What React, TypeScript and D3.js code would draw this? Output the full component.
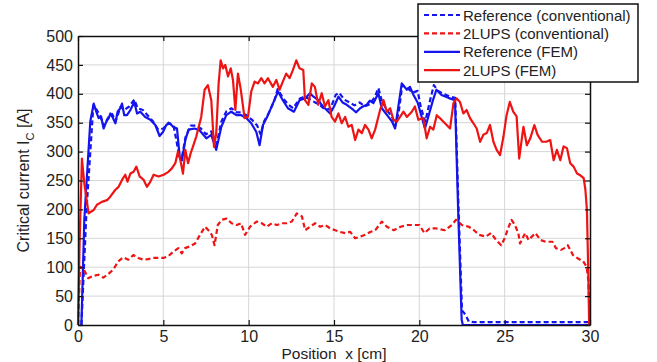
import { useRef, useEffect } from "react";
import * as d3 from "d3";

// [position cm, critical current A]
const refConventional: [number, number][] = [
  [0.2, 0], [0.5, 200], [0.9, 380], [1.1, 372], [1.3, 362], [1.5, 345], [1.8, 360], [2.0, 365],
  [2.2, 352], [2.5, 378], [2.7, 372], [3.0, 378], [3.3, 390], [3.5, 375], [3.8, 372], [4.1, 362],
  [4.4, 352], [4.7, 338], [5.0, 340], [5.3, 350], [5.6, 345], [5.9, 298], [6.1, 292], [6.3, 325],
  [6.6, 345], [6.9, 345], [7.2, 340], [7.5, 330], [7.8, 335], [8.1, 310], [8.4, 352], [8.7, 370],
  [9.0, 375], [9.3, 368], [9.6, 368], [9.9, 362], [10.2, 355], [10.5, 345], [10.7, 330], [10.9, 352],
  [11.2, 368], [11.5, 388], [11.7, 408], [12.0, 393], [12.3, 382], [12.6, 375], [13.0, 392], [13.3, 395],
  [13.6, 390], [13.9, 385], [14.2, 380], [14.5, 372], [14.8, 375], [15.1, 398], [15.3, 402], [15.6, 390],
  [15.9, 385], [16.2, 380], [16.5, 385], [16.8, 378], [17.1, 382], [17.4, 395], [17.6, 410], [17.8, 388],
  [18.1, 372], [18.4, 360], [18.6, 345], [18.8, 370], [19.0, 415], [19.3, 410], [19.6, 402], [19.9, 405],
  [20.1, 375], [20.35, 352], [20.6, 385], [20.85, 415], [21.1, 405], [21.4, 400], [21.8, 395], [22.1, 393],
  [22.3, 200], [22.5, 25], [22.7, 18], [22.9, 6], [23.2, 5], [30, 5],
];

const lupsConventional: [number, number][] = [
  [0, 0], [0.12, 101], [0.31, 98], [0.6, 81], [0.9, 85], [1.19, 87], [1.48, 82], [1.77, 88], [2.07, 96],
  [2.36, 110], [2.65, 117], [2.95, 113], [3.24, 121], [3.53, 116], [3.83, 113], [4.12, 114], [4.41, 116],
  [4.71, 116], [5.0, 116], [5.29, 119], [5.59, 127], [5.88, 133], [6.08, 124], [6.27, 133], [6.56, 136],
  [6.86, 141], [7.15, 156], [7.44, 170], [7.64, 164], [7.84, 156], [8.0, 138], [8.19, 173], [8.42, 182],
  [8.71, 184], [9.0, 176], [9.3, 173], [9.55, 176], [9.79, 156], [10.08, 170], [10.47, 179], [10.77, 176],
  [11.06, 170], [11.36, 176], [11.65, 173], [11.94, 176], [12.24, 176], [12.53, 179], [12.82, 193],
  [13.12, 188], [13.31, 164], [13.6, 170], [13.9, 176], [14.19, 170], [14.48, 173], [14.78, 167],
  [15.07, 164], [15.36, 161], [15.66, 159], [15.95, 161], [16.24, 150], [16.54, 153], [16.83, 156],
  [17.12, 161], [17.42, 164], [17.8, 179], [18.1, 170], [18.5, 164], [18.9, 170], [19.3, 173], [19.7, 173],
  [20.0, 173], [20.3, 159], [20.6, 167], [21.0, 167], [21.5, 164], [21.9, 173], [22.15, 182], [22.5, 173],
  [22.9, 170], [23.2, 164], [23.5, 156], [23.9, 153], [24.2, 159], [24.5, 147], [24.8, 138], [25.0, 150],
  [25.2, 167], [25.4, 182], [25.6, 173], [25.8, 159], [25.9, 141], [26.2, 159], [26.4, 147], [26.8, 159],
  [27.1, 147], [27.4, 144], [27.8, 144], [28.0, 133], [28.3, 130], [28.5, 133], [28.7, 138], [29.0, 121],
  [29.3, 115], [29.6, 110], [29.8, 101], [29.9, 78], [30, 3],
];

const refFem: [number, number][] = [
  [0.2, 0], [0.37, 182], [0.72, 352], [0.92, 383], [1.07, 369], [1.21, 358], [1.35, 361], [1.5, 340],
  [1.66, 352], [1.8, 358], [1.9, 366], [2.05, 358], [2.19, 349], [2.32, 369], [2.48, 375], [2.58, 383],
  [2.71, 363], [2.87, 363], [3.07, 372], [3.3, 386], [3.46, 366], [3.65, 369], [3.94, 360], [4.24, 355],
  [4.53, 346], [4.78, 327], [4.98, 334], [5.17, 346], [5.37, 349], [5.57, 343], [5.8, 340], [5.96, 291],
  [6.09, 285], [6.29, 320], [6.48, 338], [6.83, 340], [7.12, 337], [7.52, 323], [7.81, 329], [8.1, 303],
  [8.4, 343], [8.69, 363], [8.98, 369], [9.28, 363], [9.57, 363], [9.86, 358], [10.15, 349], [10.45, 334],
  [10.64, 311], [10.84, 346], [11.13, 363], [11.42, 383], [11.72, 404], [12.0, 389], [12.3, 375],
  [12.65, 369], [12.98, 389], [13.3, 392], [13.59, 401], [13.8, 395], [14.08, 389], [14.3, 380],
  [14.57, 372], [14.77, 366], [15.0, 378], [15.26, 395], [15.5, 385], [15.75, 381], [16.14, 372],
  [16.3, 368], [16.53, 375], [16.7, 378], [16.92, 381], [17.1, 388], [17.31, 384], [17.6, 401], [17.8, 375],
  [18.19, 360], [18.4, 352], [18.58, 340], [18.68, 360], [18.97, 418], [19.27, 407], [19.45, 412],
  [19.66, 398], [19.9, 385], [20.33, 340], [20.8, 389], [21.0, 407], [21.3, 398], [21.7, 393], [22.09, 389],
  [22.28, 194], [22.48, 9], [22.55, 0], [30, 0],
];

const lupsFem: [number, number][] = [
  [0, 0], [0.1, 150], [0.23, 288], [0.37, 245], [0.62, 193], [0.92, 199], [1.11, 208], [1.4, 213],
  [1.7, 216], [1.89, 222], [2.19, 234], [2.38, 239], [2.58, 251], [2.77, 260], [2.9, 248], [3.07, 262],
  [3.26, 265], [3.42, 274], [3.61, 257], [3.85, 251], [4.04, 239], [4.24, 248], [4.43, 260], [4.72, 257],
  [5.02, 260], [5.3, 265], [5.5, 271], [5.7, 280], [5.86, 300], [6.0, 285], [6.15, 262], [6.29, 303],
  [6.45, 280], [6.6, 297], [6.73, 308], [6.93, 326], [7.22, 360], [7.42, 407], [7.61, 415], [7.81, 389],
  [7.97, 308], [8.1, 332], [8.24, 418], [8.36, 458], [8.5, 444], [8.63, 450], [8.79, 430], [8.95, 444],
  [9.08, 424], [9.22, 372], [9.37, 435], [9.53, 409], [9.76, 358], [9.96, 360], [10.15, 404], [10.35, 421],
  [10.54, 418], [10.74, 427], [10.93, 418], [11.13, 427], [11.42, 412], [11.62, 424], [11.81, 407],
  [12.0, 421], [12.2, 435], [12.4, 427], [12.59, 441], [12.79, 458], [12.98, 444], [13.2, 441], [13.3, 389],
  [13.5, 381], [13.7, 418], [13.88, 412], [14.08, 381], [14.28, 401], [14.47, 378], [14.67, 389],
  [14.86, 360], [15.06, 352], [15.26, 366], [15.45, 349], [15.65, 360], [15.84, 343], [16.04, 346],
  [16.24, 320], [16.43, 338], [16.63, 332], [16.82, 346], [17.02, 338], [17.21, 323], [17.41, 338],
  [17.7, 372], [17.9, 389], [18.09, 369], [18.29, 375], [18.48, 355], [18.68, 352], [18.87, 360],
  [19.07, 369], [19.27, 360], [19.56, 369], [19.74, 378], [19.94, 355], [20.23, 358], [20.43, 323],
  [20.63, 343], [20.82, 338], [21.02, 363], [21.2, 358], [21.5, 349], [21.8, 340], [22.0, 384], [22.19, 392],
  [22.38, 386], [22.58, 366], [22.77, 372], [22.97, 358], [23.17, 349], [23.36, 340], [23.56, 317],
  [23.75, 329], [23.95, 332], [24.14, 346], [24.34, 317], [24.53, 303], [24.73, 294], [24.93, 326],
  [25.1, 361], [25.3, 386], [25.5, 369], [25.7, 361], [25.85, 288], [26.1, 343], [26.3, 311], [26.5, 323],
  [26.74, 346], [26.93, 329], [27.19, 317], [27.44, 317], [27.67, 320], [27.87, 285], [28.06, 303],
  [28.26, 285], [28.45, 309], [28.65, 306], [28.84, 280], [29.04, 274], [29.24, 262], [29.43, 259],
  [29.63, 254], [29.73, 234], [29.82, 199], [29.9, 90], [29.95, 0],
];

const xTicks = [0, 5, 10, 15, 20, 25, 30];
const yTicks = [0, 50, 100, 150, 200, 250, 300, 350, 400, 450, 500];

const BLUE = "#1414ee";
const RED = "#ee1414";

const series = [
  { name: "Reference (conventional)", data: refConventional, color: BLUE, dash: "5,3" },
  { name: "2LUPS (conventional)", data: lupsConventional, color: RED, dash: "5,3" },
  { name: "Reference (FEM)", data: refFem, color: BLUE, dash: null },
  { name: "2LUPS (FEM)", data: lupsFem, color: RED, dash: null },
];

const W = 657;
const H = 362;
const m = { left: 78, right: 590, top: 36, bottom: 325 };
const FONT = "'Liberation Sans', Arial, Helvetica, sans-serif";

export default function App() {
  const ref = useRef<SVGSVGElement | null>(null);

  useEffect(() => {
    if (!ref.current) return;
    const svg = d3.select(ref.current);
    svg.selectAll("*").remove();

    const x = d3.scaleLinear().domain([0, 30]).range([m.left, m.right]);
    const y = d3.scaleLinear().domain([0, 500]).range([m.bottom, m.top]);

    svg.append("rect").attr("width", W).attr("height", H).attr("fill", "#fff");

    // grid
    const grid = svg.append("g").attr("stroke", "#d6d6d6").attr("stroke-width", 1);
    grid
      .selectAll("line.gx")
      .data(xTicks.slice(1, -1))
      .join("line")
      .attr("x1", (d) => x(d))
      .attr("x2", (d) => x(d))
      .attr("y1", m.top)
      .attr("y2", m.bottom);
    grid
      .selectAll("line.gy")
      .data(yTicks.slice(1, -1))
      .join("line")
      .attr("x1", m.left)
      .attr("x2", m.right)
      .attr("y1", (d) => y(d))
      .attr("y2", (d) => y(d));

    // lines
    const line = d3
      .line<[number, number]>()
      .x((d) => x(d[0]))
      .y((d) => y(d[1]));

    const plot = svg.append("g");
    series.forEach((s) => {
      plot
        .append("path")
        .datum(s.data)
        .attr("d", line)
        .attr("fill", "none")
        .attr("stroke", s.color)
        .attr("stroke-width", 2.2)
        .attr("stroke-linejoin", "round")
        .attr("stroke-dasharray", s.dash);
    });

    // axes (ticks inside, box)
    const styleAxis = (g: d3.Selection<SVGGElement, unknown, null, undefined>) => {
      g.select(".domain").attr("stroke", "#111").attr("stroke-width", 1.5);
      g.selectAll(".tick line").attr("stroke", "#111").attr("stroke-width", 1.2);
      g.selectAll("text")
        .attr("fill", "#222")
        .style("font-family", FONT)
        .style("font-size", "16px");
    };

    svg
      .append("g")
      .attr("transform", `translate(0,${m.bottom})`)
      .call(d3.axisBottom(x).tickValues(xTicks).tickSize(-5).tickSizeOuter(0).tickPadding(6))
      .call(styleAxis);
    svg
      .append("g")
      .attr("transform", `translate(${m.left},0)`)
      .call(d3.axisLeft(y).tickValues(yTicks).tickSize(-5).tickSizeOuter(0).tickPadding(5))
      .call(styleAxis);
    svg
      .append("g")
      .attr("transform", `translate(0,${m.top})`)
      .call(d3.axisTop(x).tickValues(xTicks).tickSize(-5).tickSizeOuter(0).tickFormat(() => ""))
      .call(styleAxis);
    svg
      .append("g")
      .attr("transform", `translate(${m.right},0)`)
      .call(d3.axisRight(y).tickValues(yTicks).tickSize(-5).tickSizeOuter(0).tickFormat(() => ""))
      .call(styleAxis);

    // axis labels
    svg
      .append("text")
      .attr("x", (m.left + m.right) / 2)
      .attr("y", 359)
      .attr("text-anchor", "middle")
      .attr("fill", "#222")
      .style("font-family", FONT)
      .style("font-size", "15.5px")
      .attr("xml:space", "preserve")
      .text("Position  x [cm]");

    const yl = svg
      .append("text")
      .attr("transform", `translate(29,${(m.top + m.bottom) / 2}) rotate(-90)`)
      .attr("text-anchor", "middle")
      .attr("fill", "#222")
      .style("font-family", FONT)
      .style("font-size", "16px");
    yl.append("tspan").text("Critical current I");
    yl.append("tspan").attr("dy", 5).style("font-size", "11px").text("C");
    yl.append("tspan").attr("dy", -5).text(" [A]");

    // legend
    const lg = svg.append("g");
    lg.append("rect")
      .attr("x", 418)
      .attr("y", 4)
      .attr("width", 220)
      .attr("height", 78)
      .attr("fill", "#fff")
      .attr("stroke", "#111")
      .attr("stroke-width", 1.5);
    series.forEach((s, i) => {
      const cy = 15 + i * 18.4;
      lg.append("line")
        .attr("x1", 424)
        .attr("x2", 460)
        .attr("y1", cy)
        .attr("y2", cy)
        .attr("stroke", s.color)
        .attr("stroke-width", 2.2)
        .attr("stroke-dasharray", s.dash);
      lg.append("text")
        .attr("x", 463)
        .attr("y", cy + 5.5)
        .attr("fill", "#222")
        .style("font-family", FONT)
        .style("font-size", "15px")
        .text(s.name);
    });
  }, []);

  return (
    <svg
      ref={ref}
      width={W}
      height={H}
      style={{ position: "absolute", left: 0, top: 0, display: "block" }}
    />
  );
}
